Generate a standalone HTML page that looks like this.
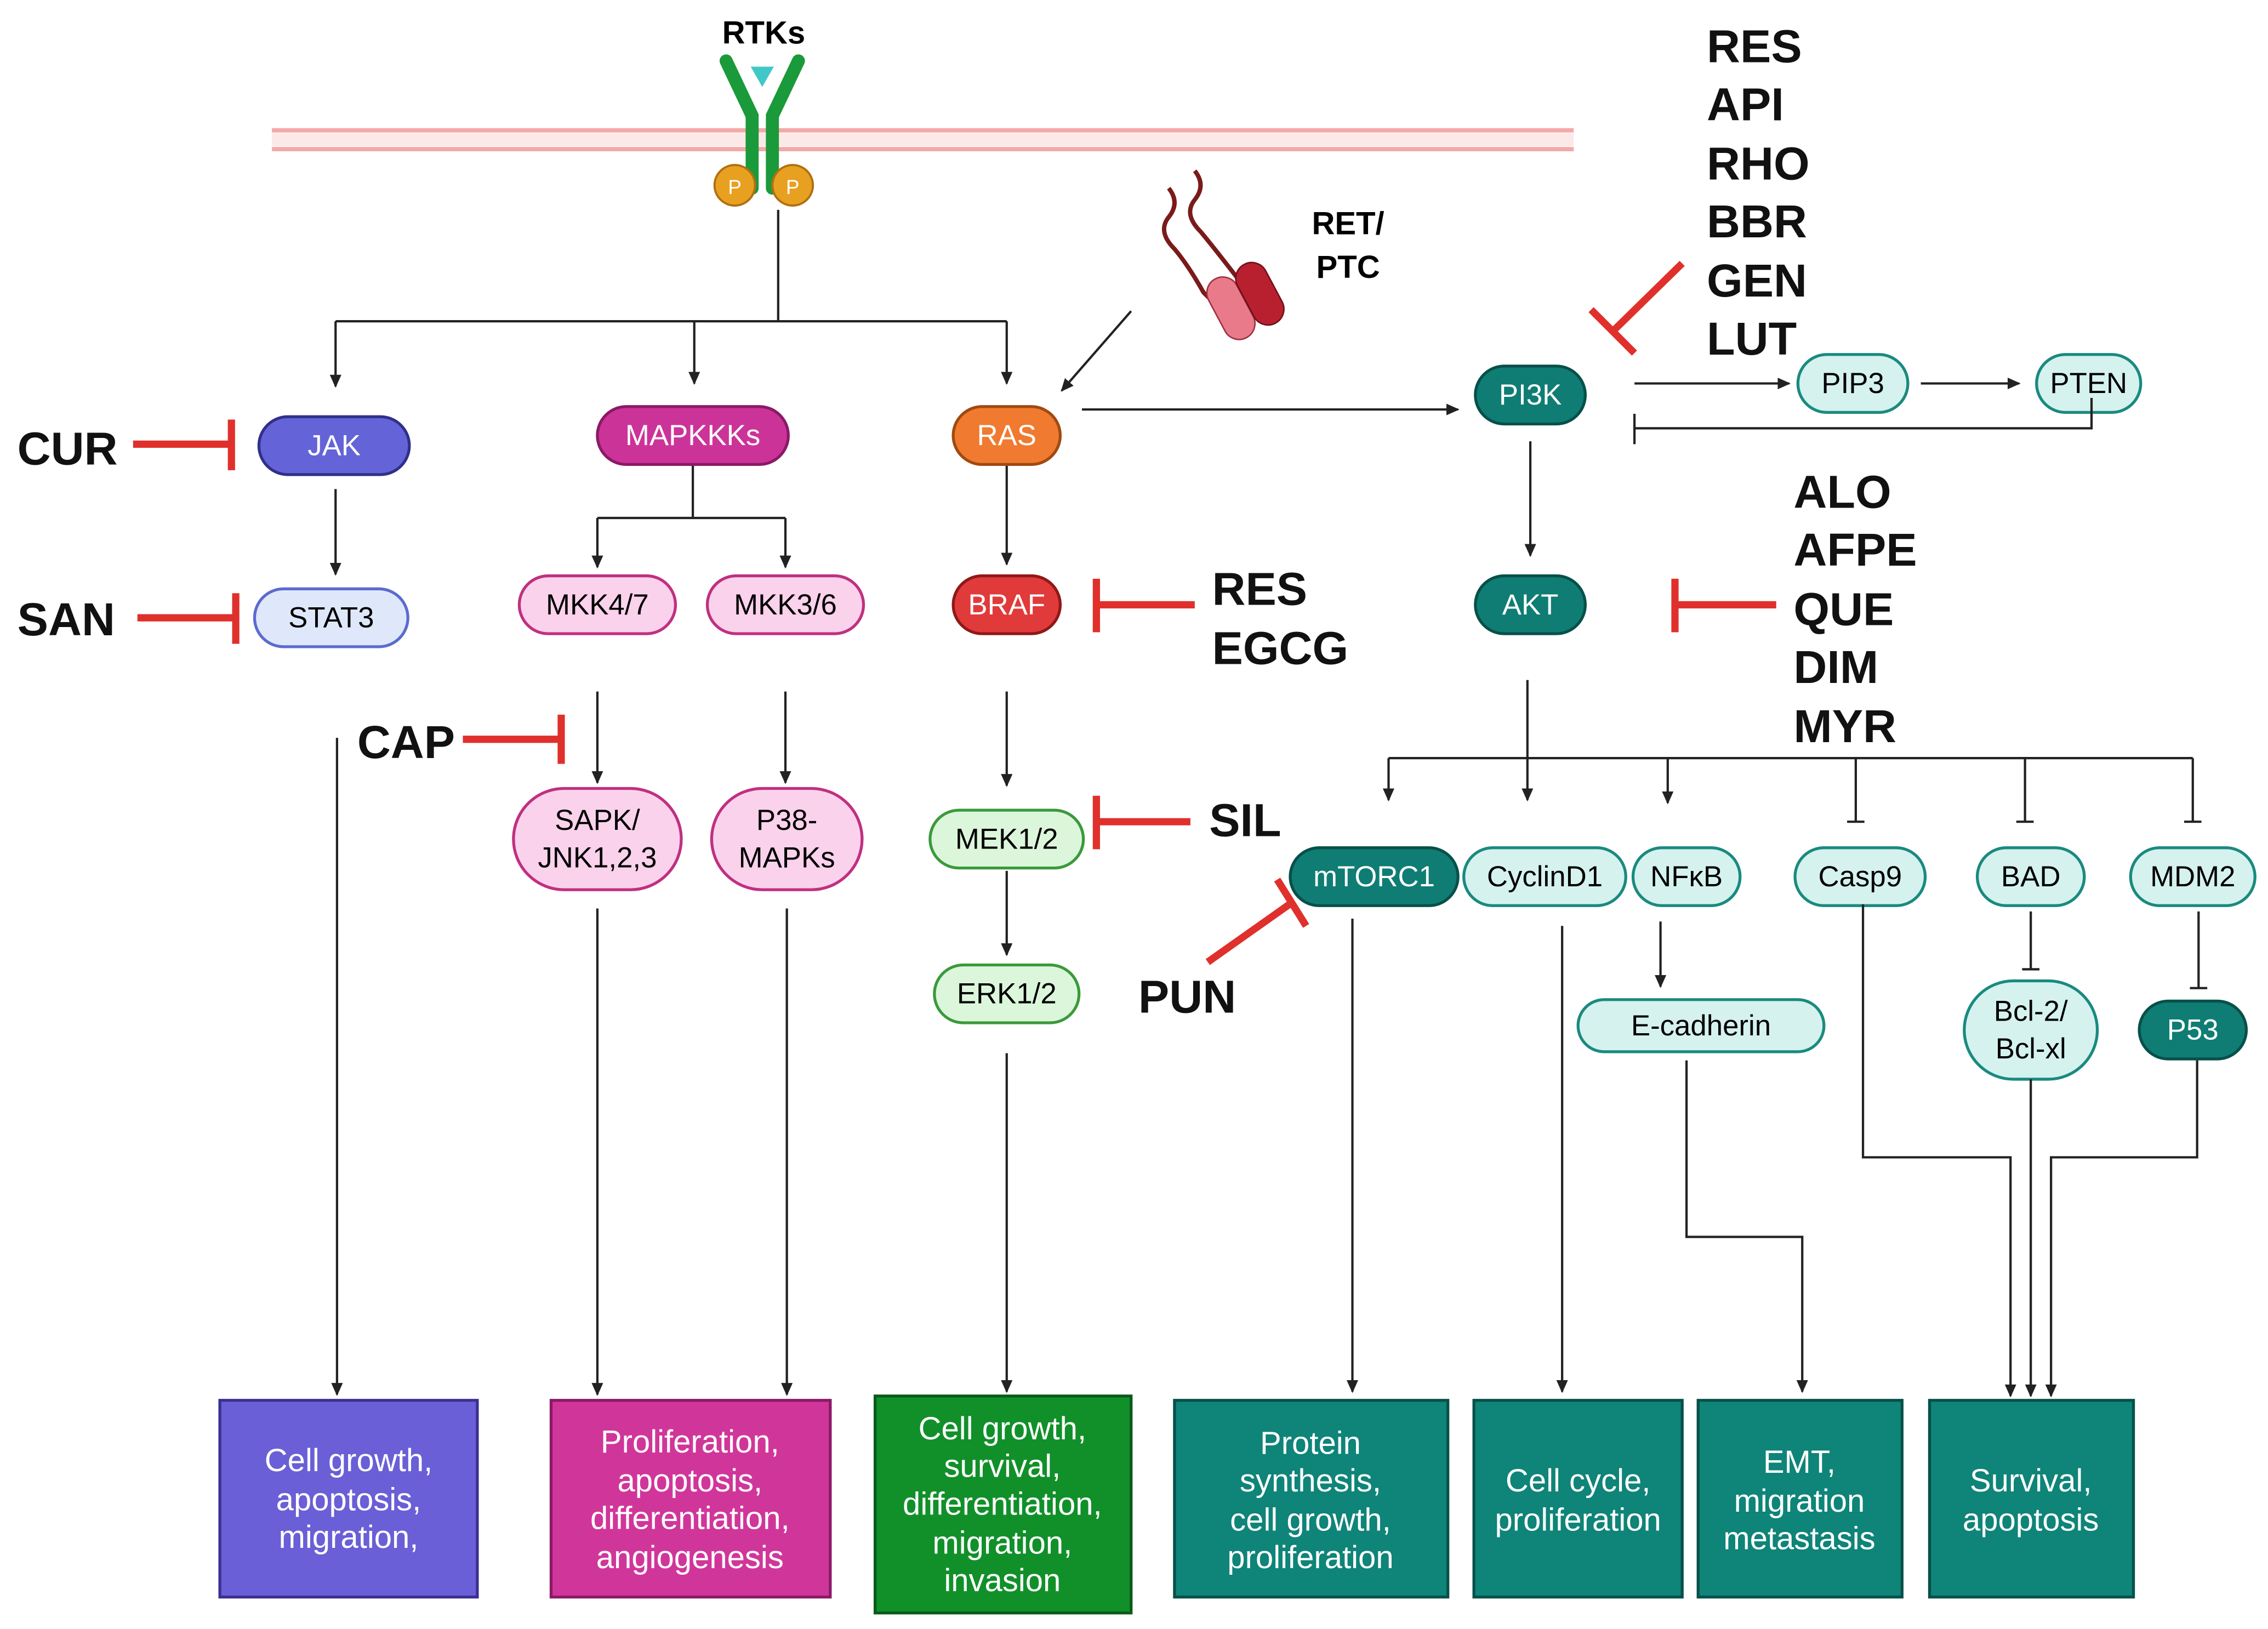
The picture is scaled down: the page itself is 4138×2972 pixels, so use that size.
<!DOCTYPE html>
<html><head><meta charset="utf-8"><style>
html,body{margin:0;padding:0;background:#fff}
svg{display:block}
text{font-family:"Liberation Sans",Arial,sans-serif}
.n{font-size:20px;text-anchor:middle;dominant-baseline:central}
.b{font-size:22px;fill:#fff;text-anchor:middle}
.inh{font-size:32px;font-weight:bold;fill:#111}
.ln{stroke:#222;stroke-width:1.6;fill:none}
.red{stroke:#e0302c;stroke-width:5;fill:none}
</style></head><body>
<svg width="4138" height="2972" viewBox="0 0 1568 1126" xmlns="http://www.w3.org/2000/svg">
<defs>
<marker id="a" markerWidth="10" markerHeight="10" refX="8" refY="5" orient="auto" markerUnits="userSpaceOnUse"><path d="M0,1 L9,5 L0,9 z" fill="#222"/></marker>
</defs>
<rect width="1568" height="1126" fill="#fff"/>
<!-- membrane -->
<line x1="188" y1="90" x2="1088" y2="90" stroke="#f4a9a9" stroke-width="3"/>
<line x1="188" y1="103" x2="1088" y2="103" stroke="#f4a9a9" stroke-width="3"/>
<rect x="188" y="92" width="900" height="9" fill="#fde8e8"/>
<!-- RTK -->
<text x="528" y="30" font-size="22" font-weight="bold" text-anchor="middle">RTKs</text>
<path d="M502,42 L520,80 L520,130" stroke="#1a9a3a" stroke-width="9" fill="none" stroke-linecap="round"/>
<path d="M552,42 L534,80 L534,130" stroke="#1a9a3a" stroke-width="9" fill="none" stroke-linecap="round"/>
<path d="M519,46 L535,46 L527,60 z" fill="#40c8c8"/>
<circle cx="508" cy="128" r="14" fill="#e8a020" stroke="#b07010" stroke-width="1.5"/>
<circle cx="548" cy="128" r="14" fill="#e8a020" stroke="#b07010" stroke-width="1.5"/>
<text x="508" y="134" font-size="14" fill="#fff" text-anchor="middle">P</text>
<text x="548" y="134" font-size="14" fill="#fff" text-anchor="middle">P</text>
<!-- RET/PTC -->
<text x="932" y="162" font-size="22" font-weight="bold" text-anchor="middle">RET/</text>
<text x="932" y="192" font-size="22" font-weight="bold" text-anchor="middle">PTC</text>
<path d="M808,130 q8,10 0,20 q-8,10 4,22 q10,12 20,30 L850,220" stroke="#7a1a1a" stroke-width="3" fill="none"/>
<path d="M826,118 q8,10 0,20 q-8,10 4,22 q10,12 30,38 L872,210" stroke="#7a1a1a" stroke-width="3" fill="none"/>
<rect x="840" y="190" width="22" height="46" rx="11" fill="#e87a8a" stroke="#a03040" transform="rotate(-28 851 213)"/>
<rect x="860" y="180" width="22" height="46" rx="11" fill="#b82030" stroke="#701018" transform="rotate(-28 871 203)"/>
<line class="ln" x1="782" y1="215" x2="734" y2="270" marker-end="url(#a)"/>
<!-- top connectors -->
<path class="ln" d="M538,145 V222 M232,222 H696"/>
<line class="ln" x1="232" y1="222" x2="232" y2="267" marker-end="url(#a)"/>
<line class="ln" x1="480" y1="222" x2="480" y2="265" marker-end="url(#a)"/>
<line class="ln" x1="696" y1="222" x2="696" y2="265" marker-end="url(#a)"/>
<!-- nodes -->
<g stroke-width="2">
<rect x="179" y="288" width="104" height="40" rx="20" fill="#6464d8" stroke="#30308a"/>
<rect x="176" y="407" width="106" height="40" rx="20" fill="#dfe8fa" stroke="#5b6bd0"/>
<rect x="413" y="281" width="132" height="40" rx="20" fill="#cc3399" stroke="#8a1a66"/>
<rect x="359" y="398" width="108" height="40" rx="20" fill="#fad2ec" stroke="#c03080"/>
<rect x="489" y="398" width="108" height="40" rx="20" fill="#fad2ec" stroke="#c03080"/>
<rect x="355" y="545" width="116" height="70" rx="35" fill="#fad2ec" stroke="#c03080"/>
<rect x="492" y="545" width="104" height="70" rx="35" fill="#fad2ec" stroke="#c03080"/>
<rect x="659" y="281" width="74" height="40" rx="20" fill="#f07a30" stroke="#a04a10"/>
<rect x="659" y="398" width="74" height="40" rx="20" fill="#e03a3a" stroke="#901818"/>
<rect x="643" y="560" width="106" height="40" rx="20" fill="#dcf6dc" stroke="#3a9a3a"/>
<rect x="646" y="667" width="100" height="40" rx="20" fill="#dcf6dc" stroke="#3a9a3a"/>
<rect x="1020" y="253" width="76" height="40" rx="20" fill="#0f7d74" stroke="#08504a"/>
<rect x="1243" y="245" width="76" height="40" rx="20" fill="#d5f2ee" stroke="#1a8a80"/>
<rect x="1408" y="245" width="72" height="40" rx="20" fill="#d5f2ee" stroke="#1a8a80"/>
<rect x="1020" y="398" width="76" height="40" rx="20" fill="#0f7d74" stroke="#08504a"/>
<rect x="892" y="586" width="116" height="40" rx="20" fill="#0f7d74" stroke="#08504a"/>
<rect x="1012" y="586" width="112" height="40" rx="20" fill="#d5f2ee" stroke="#1a8a80"/>
<rect x="1129" y="586" width="74" height="40" rx="20" fill="#d5f2ee" stroke="#1a8a80"/>
<rect x="1241" y="586" width="90" height="40" rx="20" fill="#d5f2ee" stroke="#1a8a80"/>
<rect x="1367" y="586" width="74" height="40" rx="20" fill="#d5f2ee" stroke="#1a8a80"/>
<rect x="1473" y="586" width="86" height="40" rx="20" fill="#d5f2ee" stroke="#1a8a80"/>
<rect x="1091" y="691" width="170" height="36" rx="18" fill="#d5f2ee" stroke="#1a8a80"/>
<rect x="1358" y="678" width="92" height="68" rx="34" fill="#d5f2ee" stroke="#1a8a80"/>
<rect x="1479" y="692" width="74" height="40" rx="20" fill="#0f7d74" stroke="#08504a"/>
</g>
<g class="n">
<text class="n" x="231" y="308" fill="#fff">JAK</text>
<text class="n" x="229" y="427">STAT3</text>
<text class="n" x="479" y="301" fill="#fff">MAPKKKs</text>
<text class="n" x="413" y="418">MKK4/7</text>
<text class="n" x="543" y="418">MKK3/6</text>
<text class="n" x="413" y="567">SAPK/</text><text class="n" x="413" y="593">JNK1,2,3</text>
<text class="n" x="544" y="567">P38-</text><text class="n" x="544" y="593">MAPKs</text>
<text class="n" x="696" y="301" fill="#fff">RAS</text>
<text class="n" x="696" y="418" fill="#fff">BRAF</text>
<text class="n" x="696" y="580">MEK1/2</text>
<text class="n" x="696" y="687">ERK1/2</text>
<text class="n" x="1058" y="273" fill="#fff">PI3K</text>
<text class="n" x="1281" y="265">PIP3</text>
<text class="n" x="1444" y="265">PTEN</text>
<text class="n" x="1058" y="418" fill="#fff">AKT</text>
<text class="n" x="950" y="606" fill="#fff">mTORC1</text>
<text class="n" x="1068" y="606">CyclinD1</text>
<text class="n" x="1166" y="606">NFκB</text>
<text class="n" x="1286" y="606">Casp9</text>
<text class="n" x="1404" y="606">BAD</text>
<text class="n" x="1516" y="606">MDM2</text>
<text class="n" x="1176" y="709">E-cadherin</text>
<text class="n" x="1404" y="699">Bcl-2/</text><text class="n" x="1404" y="725">Bcl-xl</text>
<text class="n" x="1516" y="712" fill="#fff">P53</text>
</g>
<!-- connectors -->
<line class="ln" x1="232" y1="338" x2="232" y2="397" marker-end="url(#a)"/>
<path class="ln" d="M479,322 V358 M413,358 H543"/>
<line class="ln" x1="413" y1="358" x2="413" y2="392" marker-end="url(#a)"/>
<line class="ln" x1="543" y1="358" x2="543" y2="392" marker-end="url(#a)"/>
<line class="ln" x1="413" y1="478" x2="413" y2="541" marker-end="url(#a)"/>
<line class="ln" x1="543" y1="478" x2="543" y2="541" marker-end="url(#a)"/>
<line class="ln" x1="696" y1="322" x2="696" y2="390" marker-end="url(#a)"/>
<line class="ln" x1="696" y1="478" x2="696" y2="543" marker-end="url(#a)"/>
<line class="ln" x1="696" y1="602" x2="696" y2="660" marker-end="url(#a)"/>
<line class="ln" x1="696" y1="728" x2="696" y2="962" marker-end="url(#a)"/>
<line class="ln" x1="233" y1="510" x2="233" y2="964" marker-end="url(#a)"/>
<line class="ln" x1="413" y1="628" x2="413" y2="964" marker-end="url(#a)"/>
<line class="ln" x1="544" y1="628" x2="544" y2="964" marker-end="url(#a)"/>
<line class="ln" x1="748" y1="283" x2="1008" y2="283" marker-end="url(#a)"/>
<line class="ln" x1="1130" y1="265" x2="1237" y2="265" marker-end="url(#a)"/>
<line class="ln" x1="1328" y1="265" x2="1396" y2="265" marker-end="url(#a)"/>
<path class="ln" d="M1446,275 V296 H1130 M1130,286 V307"/>
<line class="ln" x1="1058" y1="305" x2="1058" y2="384" marker-end="url(#a)"/>
<path class="ln" d="M1056,470 V524 M960,524 H1516"/>
<line class="ln" x1="960" y1="524" x2="960" y2="553" marker-end="url(#a)"/>
<line class="ln" x1="1056" y1="524" x2="1056" y2="553" marker-end="url(#a)"/>
<line class="ln" x1="1153" y1="524" x2="1153" y2="555" marker-end="url(#a)"/>
<path class="ln" d="M1283,524 V568 M1277,568 H1289 M1400,524 V568 M1394,568 H1406 M1516,524 V568 M1510,568 H1522"/>
<line class="ln" x1="935" y1="635" x2="935" y2="962" marker-end="url(#a)"/>
<line class="ln" x1="1080" y1="640" x2="1080" y2="962" marker-end="url(#a)"/>
<line class="ln" x1="1148" y1="637" x2="1148" y2="682" marker-end="url(#a)"/>
<path class="ln" d="M1166,733 V855 H1246 V962" marker-end="url(#a)"/>
<path class="ln" d="M1288,625 V800 H1390 V965" marker-end="url(#a)"/>
<path class="ln" d="M1404,630 V670 M1398,670 H1410"/>
<line class="ln" x1="1404" y1="746" x2="1404" y2="965" marker-end="url(#a)"/>
<path class="ln" d="M1520,630 V683 M1514,683 H1526"/>
<path class="ln" d="M1519,733 V800 H1418 V965" marker-end="url(#a)"/>
<!-- boxes -->
<g stroke-width="2">
<rect x="152" y="968" width="178" height="136" fill="#6a5fd6" stroke="#3a3090"/>
<rect x="381" y="968" width="193" height="136" fill="#d0369a" stroke="#8a1a66"/>
<rect x="605" y="965" width="177" height="150" fill="#11902a" stroke="#0a5a1a"/>
<rect x="812" y="968" width="189" height="136" fill="#0f8478" stroke="#08504a"/>
<rect x="1019" y="968" width="144" height="136" fill="#0f8478" stroke="#08504a"/>
<rect x="1174" y="968" width="141" height="136" fill="#0f8478" stroke="#08504a"/>
<rect x="1334" y="968" width="141" height="136" fill="#0f8478" stroke="#08504a"/>
</g>
<text class="b" x="241" y="1017">Cell growth,</text><text class="b" x="241" y="1044">apoptosis,</text><text class="b" x="241" y="1070">migration,</text>
<text class="b" x="477" y="1004">Proliferation,</text><text class="b" x="477" y="1031">apoptosis,</text><text class="b" x="477" y="1057">differentiation,</text><text class="b" x="477" y="1084">angiogenesis</text>
<text class="b" x="693" y="995">Cell growth,</text><text class="b" x="693" y="1021">survival,</text><text class="b" x="693" y="1047">differentiation,</text><text class="b" x="693" y="1074">migration,</text><text class="b" x="693" y="1100">invasion</text>
<text class="b" x="906" y="1005">Protein</text><text class="b" x="906" y="1031">synthesis,</text><text class="b" x="906" y="1058">cell growth,</text><text class="b" x="906" y="1084">proliferation</text>
<text class="b" x="1091" y="1031">Cell cycle,</text><text class="b" x="1091" y="1058">proliferation</text>
<text class="b" x="1244" y="1018">EMT,</text><text class="b" x="1244" y="1045">migration</text><text class="b" x="1244" y="1071">metastasis</text>
<text class="b" x="1404" y="1031">Survival,</text><text class="b" x="1404" y="1058">apoptosis</text>
<!-- inhibitors -->
<text class="inh" x="12" y="321">CUR</text>
<path class="red" d="M92,307 H158 M160,290 V325"/>
<text class="inh" x="12" y="439">SAN</text>
<path class="red" d="M95,427 H162 M163,410 V445"/>
<text class="inh" x="247" y="524">CAP</text>
<path class="red" d="M320,511 H386 M388,494 V528"/>
<text class="inh" x="838" y="418">RES</text><text class="inh" x="838" y="459">EGCG</text>
<path class="red" d="M826,418 H760 M758,400 V437"/>
<text class="inh" x="836" y="578">SIL</text>
<path class="red" d="M823,568 H760 M758,550 V587"/>
<text class="inh" x="787" y="700">PUN</text>
<path class="red" d="M835,665 L893,624 M883,608 L903,640"/>
<g class="inh">
<text class="inh" x="1180" y="43">RES</text><text class="inh" x="1180" y="83">API</text><text class="inh" x="1180" y="124">RHO</text>
<text class="inh" x="1180" y="164">BBR</text><text class="inh" x="1180" y="205">GEN</text><text class="inh" x="1180" y="245">LUT</text>
<text class="inh" x="1240" y="351">ALO</text><text class="inh" x="1240" y="391">AFPE</text><text class="inh" x="1240" y="432">QUE</text>
<text class="inh" x="1240" y="472">DIM</text><text class="inh" x="1240" y="513">MYR</text>
</g>
<path class="red" d="M1163,182 L1116,228 M1100,214 L1130,244"/>
<path class="red" d="M1228,418 H1160 M1158,400 V437"/>
</svg>
</body></html>
